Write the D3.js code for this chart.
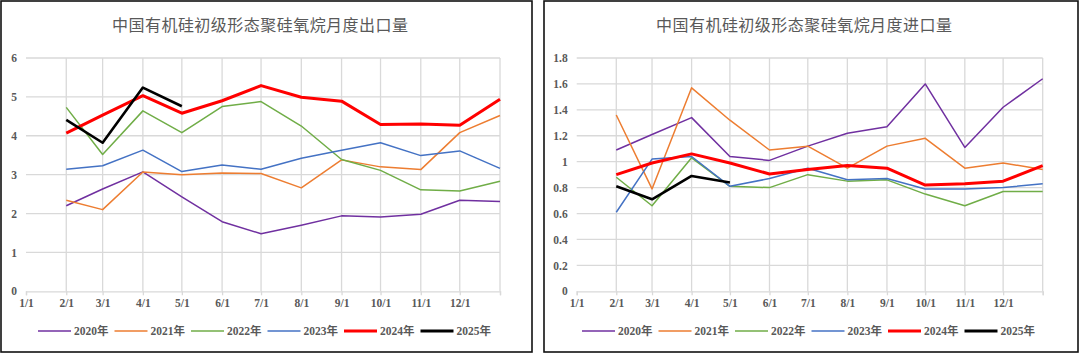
<!doctype html>
<html>
  <head>
    <meta charset='utf-8'>
    <title>有机硅进出口</title>
    <style>
      body { margin: 0; background: #fff; }
      text { font-family: 'Liberation Serif', 'Noto Sans CJK SC', serif; }
    </style>
  </head>
  <body>
    <svg width='1080' height='354'></svg>

  <script src='https://cdn.jsdelivr.net/npm/d3@7/dist/d3.min.js'></script>
  <script>
// Month ticks and legend names
var tickLabels = ['1/1', '2/1', '3/1', '4/1', '5/1', '6/1', '7/1', '8/1', '9/1', '10/1', '11/1', '12/1'];
var years = ['2020年', '2021年', '2022年', '2023年', '2024年', '2025年'];
var colors = ['#7030a0', '#ed7d31', '#70ad47', '#4472c4', '#ff0000', '#000000'];
var widths = [1.5, 1.5, 1.5, 1.5, 3, 2.6];

// Points sit on 2/1 ... 12/1 and the year end
var pointDates = ['2021-02-01', '2021-03-01', '2021-04-01', '2021-05-01', '2021-06-01', '2021-07-01',
  '2021-08-01', '2021-09-01', '2021-10-01', '2021-11-01', '2021-12-01', '2022-01-01'];

// Export, 万吨
var export2020 = [2.20, 2.63, 3.07, 2.43, 1.79, 1.48, 1.70, 1.94, 1.91, 1.98, 2.34, 2.31];
var export2021 = [2.34, 2.10, 3.07, 3.00, 3.04, 3.03, 2.66, 3.38, 3.20, 3.13, 4.08, 4.52];
var export2022 = [4.73, 3.52, 4.64, 4.08, 4.75, 4.88, 4.25, 3.39, 3.11, 2.61, 2.58, 2.83];
var export2023 = [3.14, 3.23, 3.63, 3.08, 3.25, 3.14, 3.42, 3.63, 3.82, 3.49, 3.61, 3.16];
var export2024 = [4.07, 4.53, 5.03, 4.58, 4.90, 5.29, 4.99, 4.89, 4.29, 4.30, 4.27, 4.94];
var export2025 = [4.41, 3.82, 5.24, 4.76];

// Import, 万吨
var import2020 = [1.09, 1.21, 1.34, 1.04, 1.01, 1.12, 1.22, 1.27, 1.60, 1.11, 1.42, 1.64];
var import2021 = [1.36, 0.79, 1.57, 1.32, 1.09, 1.12, 0.95, 1.12, 1.18, 0.95, 0.99, 0.94];
var import2022 = [0.88, 0.66, 1.03, 0.81, 0.80, 0.90, 0.85, 0.86, 0.75, 0.66, 0.77, 0.77];
var import2023 = [0.61, 1.02, 1.04, 0.81, 0.87, 0.95, 0.86, 0.87, 0.79, 0.79, 0.80, 0.83];
var import2024 = [0.90, 0.99, 1.06, 0.99, 0.905, 0.94, 0.97, 0.95, 0.82, 0.83, 0.85, 0.97];
var import2025 = [0.81, 0.71, 0.89, 0.84];

var exportTicks = [0, 1, 2, 3, 4, 5, 6];
var importTicks = [0, 0.2, 0.4, 0.6, 0.8, 1, 1.2, 1.4, 1.6, 1.8];

var svg = d3.select('svg');
var parse = d3.timeParse('%Y-%m-%d');
var dates = pointDates.map(parse);

function drawChart(opts) {
  var g = svg.append('g');
  // frame
  g.append('rect')
    .attr('x', opts.box[0]).attr('y', 1)
    .attr('width', opts.box[1] - opts.box[0]).attr('height', 351)
    .attr('fill', 'white').attr('stroke', '#111').attr('stroke-width', 1.6);

  g.append('text')
    .attr('x', opts.titleX - 148).attr('y', 31)
    .attr('textLength', 296).attr('lengthAdjust', 'spacing')
    .style('font-family', "'Noto Sans CJK SC', sans-serif")
    .style('font-size', '16px')
    .attr('fill', '#595959')
    .text(opts.title);

  var x = d3.scaleTime()
    .domain([parse('2021-01-01'), parse('2022-01-01')])
    .range([opts.left, opts.right]);
  var y = d3.scaleLinear().domain([0, d3.max(opts.yTicks)]).range([291.3, 58]);

  var tickDates = tickLabels.map(function(d, i) { return new Date(2021, i, 1); });

  // horizontal grid
  g.selectAll('.hg').data(opts.yTicks.slice(1)).enter().append('line')
    .attr('x1', opts.left).attr('x2', opts.right)
    .attr('y1', function(d) { return y(d); }).attr('y2', function(d) { return y(d); })
    .attr('stroke', '#d9d9d9').attr('stroke-width', 1.3);
  // vertical grid
  g.selectAll('.vg').data(tickDates.slice(1).concat([parse('2022-01-01')])).enter().append('line')
    .attr('x1', function(d) { return x(d); }).attr('x2', function(d) { return x(d); })
    .attr('y1', 58).attr('y2', 291.3)
    .attr('stroke', '#d9d9d9').attr('stroke-width', 1.3);

  // x axis
  var xAxis = d3.axisBottom(x)
    .tickValues(tickDates.concat([parse('2022-01-01')]))
    .tickSize(4)
    .tickFormat(function(d, i) { return tickLabels[i] || ''; });
  var xa = g.append('g').attr('transform', 'translate(0,291.3)').call(xAxis);
  xa.select('.domain').attr('stroke', '#d9d9d9').attr('stroke-width', 1.3);
  xa.selectAll('.tick line').attr('stroke', '#d9d9d9').attr('stroke-width', 1.3);
  xa.selectAll('.tick text')
    .attr('dy', '0.71em').attr('y', 8)
    .style('font-family', "'Liberation Serif', serif")
    .style('font-size', '11.5px').style('font-weight', 'bold')
    .attr('fill', '#595959');

  // y axis labels
  var yAxis = d3.axisLeft(y).tickValues(opts.yTicks).tickSize(0).tickPadding(9)
    .tickFormat(function(d) { return d3.format('~g')(d); });
  var ya = g.append('g').attr('transform', 'translate(' + opts.left + ',0)').call(yAxis);
  ya.select('.domain').remove();
  ya.selectAll('.tick text')
    .style('font-family', "'Liberation Serif', serif")
    .style('font-size', '11.5px').style('font-weight', 'bold')
    .attr('fill', '#595959');

  var line = d3.line()
    .x(function(d, i) { return x(dates[i]); })
    .y(function(d) { return y(d); });

  opts.series.forEach(function(s, k) {
    g.append('path')
      .attr('d', line(s))
      .attr('fill', 'none')
      .attr('stroke', colors[k])
      .attr('stroke-width', widths[k])
      .attr('stroke-linejoin', 'round');
  });

  // legend
  var lg = g.append('g').attr('transform', 'translate(' + opts.legendX + ',331)');
  years.forEach(function(name, k) {
    var it = lg.append('g').attr('transform', 'translate(' + (k * 76.5) + ',0)');
    it.append('line').attr('x1', 0).attr('x2', 33).attr('y1', 0).attr('y2', 0)
      .attr('stroke', colors[k]).attr('stroke-width', widths[k] > 2 ? 3 : 1.6);
    it.append('text').attr('x', 36).attr('y', 4)
      .style('font-family', "'Liberation Serif', 'Noto Sans CJK SC', serif")
      .style('font-size', '11.5px').style('font-weight', 'bold')
      .attr('fill', '#595959')
      .text(name);
  });
}

drawChart({
  box: [1, 532], title: '中国有机硅初级形态聚硅氧烷月度出口量', titleX: 260,
  left: 26, right: 500, yTicks: exportTicks, legendX: 38,
  series: [export2020, export2021, export2022, export2023, export2024, export2025]
});
drawChart({
  box: [544, 1078], title: '中国有机硅初级形态聚硅氧烷月度进口量', titleX: 804,
  left: 576.7, right: 1042.7, yTicks: importTicks, legendX: 582,
  series: [import2020, import2021, import2022, import2023, import2024, import2025]
});
  </script>
  </body>
</html>
